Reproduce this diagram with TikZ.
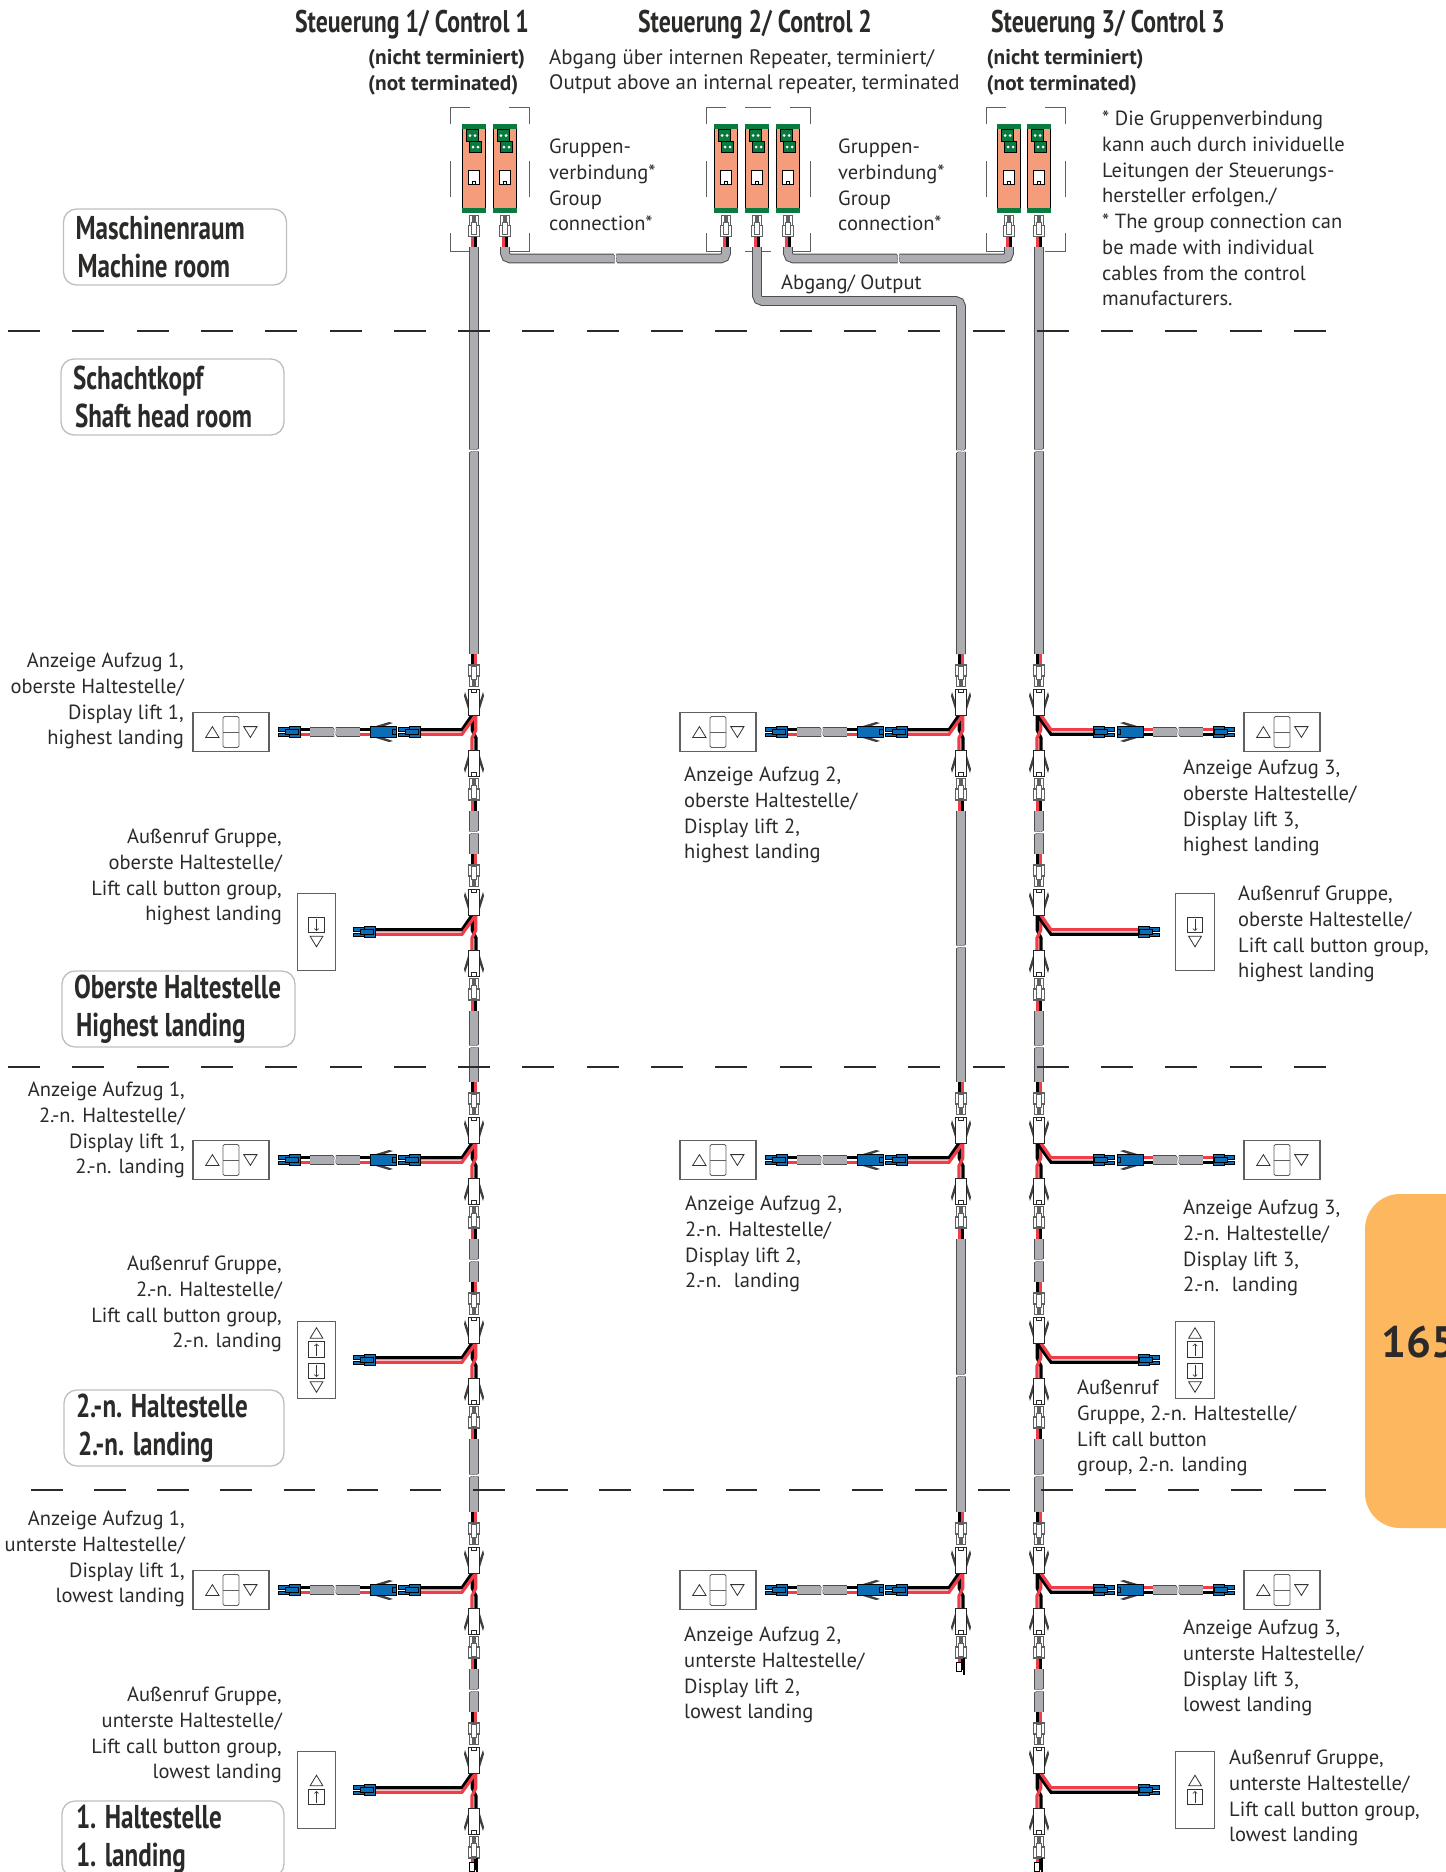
\documentclass[tikz,border=0pt]{standalone}
\usepackage{fontspec}
\setmainfont{PT Sans}
\newfontfamily\headfont{PT Sans}[FakeStretch=0.76]
\usetikzlibrary{positioning}

\definecolor{inktext}{HTML}{2B2A29}
\definecolor{cablegrey}{HTML}{ABADB0}
\definecolor{cableedge}{HTML}{4D4D4F}
\definecolor{plugedge}{HTML}{5F6062}
\definecolor{wirered}{HTML}{EF3E4A}
\definecolor{plugblue}{HTML}{0B6DB5}
\definecolor{moduleorange}{HTML}{F59C7B}
\definecolor{modulegreen}{HTML}{0A7A3E}
\definecolor{tabyellow}{HTML}{FDB85F}
\definecolor{roomedge}{HTML}{BCBEC0}

\tikzstyle{cable}=[draw=cableedge,line width=1pt,double=cablegrey,double distance=7.6pt,rounded corners=5pt]
\tikzstyle{wireblack}=[draw=black,line width=3.2pt]
\tikzstyle{wirered}=[draw=wirered,line width=3.2pt]
\tikzstyle{plugwhite}=[draw=plugedge,fill=white,line width=1.1pt]
\tikzstyle{bigwhite}=[draw=black!85,fill=white,line width=0.9pt]
\tikzstyle{plugblue}=[draw=black,fill=plugblue,line width=0.9pt]
\tikzstyle{barb}=[fill=black!75]
\tikzstyle{landline}=[draw=inktext,line width=1.7pt]
\tikzstyle{bracket}=[draw=plugedge,line width=1pt]
\tikzstyle{panel}=[draw=plugedge,fill=white,line width=1.1pt,inner sep=0pt]
\tikzstyle{symbol}=[draw=black!80,line width=0.8pt]
\tikzstyle{roombox}=[draw=roomedge,line width=1.3pt,rounded corners=13pt,align=flush left,inner sep=0pt,
  font=\headfont\bfseries\fontsize{33}{38}\selectfont,text=inktext]
\tikzstyle{title}=[font=\headfont\bfseries\fontsize{31.3}{36}\selectfont,text=inktext,inner sep=0pt]
\tikzstyle{labelbase}=[font=\fontsize{20.5}{25.7}\selectfont,text=inktext,inner sep=0pt,yshift=-4pt,execute at begin node=\strut]
\tikzstyle{labelleft}=[labelbase,anchor=north west,align=left]
\tikzstyle{labelright}=[labelbase,anchor=north east,align=right]
\tikzstyle{labelbold}=[labelleft,font=\bfseries\fontsize{21.3}{25.7}\selectfont]

\tikzset{cablebreak/.pic={
  \draw[white,line width=2.4pt] (-6,1) .. controls (-2,-2.5) and (2,2.5) .. (6,-1);
  \draw[cableedge,line width=0.4pt] (-4.4,-0.6) .. controls (-2,-3) and (2,1.6) .. (4.4,-2.2);
  \draw[cableedge,line width=0.4pt] (-4.4,2.2) .. controls (-2,-1.6) and (2,3) .. (4.4,0.6);
}}

\newcommand{\smallplug}[5]{
  \begin{scope}[shift={(#2,#3)},rotate=#4]
    \coordinate (#1) at (0,0);
    \filldraw[#5] (-4.3,9) rectangle (-1,21.5);
    \filldraw[#5] (1,9) rectangle (4.3,21.5);
    \filldraw[#5] (-5.4,0) rectangle (5.4,11);
    \filldraw[#5] (-2.5,1.8) rectangle (2.5,14.5);
  \end{scope}
}
\newcommand{\bigplug}[5]{
  \begin{scope}[shift={(#2,#3)},rotate=#4]
    \coordinate (#1) at (0,0);
    \fill[barb] (-4.8,2) -- (-10,19) -- (-9,23) -- (-5.2,12) -- cycle;
    \fill[barb] (4.8,2) -- (10,19) -- (9,23) -- (5.2,12) -- cycle;
    \filldraw[#5] (-5.3,0) rectangle (5.3,26);
    \draw[#5,fill=none] (-2.2,26) -- (-2.2,22.5) -- (2.2,22.5) -- (2.2,26);
  \end{scope}
}
\newcommand{\cablerun}[2]{
  \draw[cable] (#1) -- (#2);
  \path (#1) -- pic {cablebreak} (#2);
}
\newcommand{\module}[2]{
  \begin{scope}[shift={(#2,0)}]
    \filldraw[fill=moduleorange,draw=black,line width=1.5pt] (-11.7,124.5) rectangle (11.7,212.5);
    \fill[modulegreen] (-12,124) rectangle (12,128.5);
    \fill[modulegreen] (-12,208) rectangle (12,213);
    \filldraw[fill=modulegreen,draw=black,line width=0.8pt] (-7.5,129.5) rectangle (4.5,141.5);
    \filldraw[fill=modulegreen,draw=black,line width=0.8pt] (-4.5,141) rectangle (7.5,152.5);
    \foreach \dotx/\doty in {-4/135.5,1/135.5,-1/147,4/147}
      \fill[white] (\dotx,\doty) circle (1.5);
    \filldraw[fill=white,draw=black,line width=1pt] (-5.7,170.7) rectangle (5.7,184.7);
    \draw[black,line width=0.7pt] (-1.6,184.7) -- (-1.6,181.5) -- (1.6,181.5) -- (1.6,184.7);
    \smallplug{#1-plug}{0}{236.7}{180}{plugwhite}
    \draw[wirered] (-1.8,236.7) -- (-1.8,248);
    \draw[wireblack] (1.8,236.7) -- (1.8,248);
    \coordinate (#1-out) at (0,247);
  \end{scope}
}
\newcommand{\junction}[5]{
  \begin{scope}[shift={(#2,#3)}]
    \coordinate (#1-top) at (0,-78);
    \coordinate (#1-bot) at (0,79);
    \draw[wireblack] (-1.8,-79) -- (-1.8,-66);
    \draw[wirered] (1.8,-79) -- (1.8,-66);
    \draw[wirered] (-1.8,67) -- (-1.8,80);
    \draw[wireblack] (1.8,67) -- (1.8,80);
    \draw[wireblack] (-1.8,-17) -- (-1.8,-2) -- (2,6) -- (2,18);
    \draw[wirered] (1.8,-17) -- (1.8,-2) -- (-2,6) -- (-2,18);
    \draw[wireblack] (-1.8,-17) -- ({#4*12},{#4*2.2}) -- ({#4*#5},{#4*2.2});
    \draw[wirered] (1.8,-17) -- ({#4*12},{-#4*2.2}) -- ({#4*#5},{-#4*2.2});
    \smallplug{#1-up}{0}{-67}{0}{plugwhite}
    \bigplug{#1-upb}{0}{-17}{180}{bigwhite}
    \bigplug{#1-dnb}{0}{18}{0}{bigwhite}
    \smallplug{#1-dn}{0}{68}{180}{plugwhite}
    \smallplug{#1-tap}{{#4*#5}}{0}{{90*#4}}{plugblue}
  \end{scope}
}
\newcommand{\displayrun}[4]{
  \begin{scope}[shift={(#2,#3)}]
    \coordinate (#1-near) at ({#4*114},0);
    \coordinate (#1-far) at ({#4*164},0);
    \draw[wireblack] ({#4*104},{#4*2.2}) -- ({#4*115},{#4*2.2});
    \draw[wirered] ({#4*104},{-#4*2.2}) -- ({#4*115},{-#4*2.2});
    \draw[wireblack] ({#4*163},{#4*2.2}) -- ({#4*174},{#4*2.2});
    \draw[wirered] ({#4*163},{-#4*2.2}) -- ({#4*174},{-#4*2.2});
    \draw[cable,double distance=8pt] (#1-near) -- (#1-far);
    \pic[rotate=90] at ({#4*139},0) {cablebreak};
    \bigplug{#1-big}{{#4*104}}{0}{{-90*#4}}{plugblue}
    \smallplug{#1-end}{{#4*174}}{0}{{90*#4}}{plugblue}
    \node[panel,minimum width=76pt,minimum height=38.5pt] (#1-box) at ({#4*243},0) {};
    \begin{scope}[shift={({#4*243},0)}]
      \draw[symbol] (-25.3,5.4) -- (-18.6,-5.4) -- (-12,5.4) -- cycle;
      \draw[symbol] (12.7,-5.4) -- (19.4,5.4) -- (26,-5.4) -- cycle;
      \draw[symbol,draw=plugedge,rounded corners=1.5pt] (-8,-15.5) rectangle (8,15.5);
      \draw[symbol,draw=plugedge] (-8,0) -- (8,0);
    \end{scope}
  \end{scope}
}
\newcommand{\triup}[1]{\draw[symbol] (-6.4,#1+5.3) -- (0,#1-5.3) -- (6.4,#1+5.3) -- cycle;}
\newcommand{\tridown}[1]{\draw[symbol] (-6.4,#1-5.3) -- (0,#1+5.3) -- (6.4,#1-5.3) -- cycle;}
\newcommand{\keyup}[1]{\draw[symbol] (-7.8,#1-7.8) rectangle (7.8,#1+7.8); \draw[symbol,->] (0,#1+6) -- (0,#1-6);}
\newcommand{\keydown}[1]{\draw[symbol] (-7.8,#1-7.8) rectangle (7.8,#1+7.8); \draw[symbol,->] (0,#1-6) -- (0,#1+6);}
\newcommand{\callbox}[4]{
  \node[panel,minimum width=38.5pt,minimum height=76.5pt] (#1) at (#2,#3) {};
  \begin{scope}[shift={(#2,#3)}]
    #4
  \end{scope}
}
\newcommand{\tailstub}[2]{
  \draw[black,line width=1.6pt] (#1+3,#2+68) -- (#1+3,#2+85);
  \filldraw[fill=white,draw=black,line width=1pt] (#1-4.5,#2+72) rectangle (#1,#2+81);
}
\newcommand{\cornerset}[2]{
  \draw[bracket] (#1,124) -- (#1,107) -- ++(#2*20,0);
  \draw[bracket] (#1,161) -- (#1,197);
  \draw[bracket] (#1,233) -- (#1,251) -- ++(#2*20,0);
}

\begin{document}
\begin{tikzpicture}[x=1pt,y=-1pt,>=to]
  \useasboundingbox (0,0) rectangle (1446,1872);

  \path[fill=tabyellow,rounded corners=35pt] (1365,1194) rectangle (1540,1528);
  \node[font=\bfseries\fontsize{44}{44}\selectfont,text=inktext,anchor=base west,inner sep=0pt] (pagenumber) at (1381,1357) {165};

  \cornerset{450}{1}
  \cornerset{529}{-1}
  \cornerset{706}{1}
  \cornerset{810}{-1}
  \cornerset{986}{1}
  \cornerset{1065}{-1}
  \draw[bracket] (745,107) -- (771,107);
  \draw[bracket] (745,251) -- (771,251);
  \module{cA}{474}
  \module{cB}{505}
  \module{cC}{726}
  \module{cD}{757}
  \module{cE}{788}
  \module{cF}{1009}
  \module{cG}{1039}

  \coordinate (groupA) at (615.5,258.5);
  \coordinate (groupB) at (898.5,258.5);
  \coordinate (outputbend) at (961,301);
  \draw[cable] (cB-out) |- (groupA) -| (cC-out);
  \draw[cable] (cE-out) |- (groupB) -| (cF-out);
  \pic[rotate=90] at (groupA) {cablebreak};
  \pic[rotate=90] at (groupB) {cablebreak};

  \foreach \lift/\liftx/\side/\boxx in {1/474/-1/316.5,3/1039/1/1195}
  {
    \foreach \halt/\halty/\reach in {a/732/54,b/932/99,c/1160/54,d/1360/99,e/1590/54,f/1790/99}
    {
      \junction{L\lift\halt}{\liftx}{\halty}{\side}{\reach}
    }
    \foreach \halt/\halty in {a/732,c/1160,e/1590}
    {
      \displayrun{D\lift\halt}{\liftx}{\halty}{\side}
    }
    \foreach \upper/\lower in {a/b,b/c,c/d,d/e,e/f}
    {
      \cablerun{L\lift\upper-bot}{L\lift\lower-top}
    }
    \tailstub{\liftx}{1790}
    \callbox{B\lift b}{\boxx}{932}{\keydown{-7}\tridown{9.5}}
    \callbox{B\lift d}{\boxx}{1360}{\triup{-27}\keyup{-10.5}\keydown{11}\tridown{27}}
    \callbox{B\lift f}{\boxx}{1790}{\triup{-9.5}\keyup{7}}
  }
  \cablerun{cA-out}{L1a-top}
  \cablerun{cG-out}{L3a-top}

  \foreach \halt/\halty in {a/732,c/1160,e/1590}
  {
    \junction{L2\halt}{961}{\halty}{-1}{54}
    \displayrun{D2\halt}{961}{\halty}{-1}
  }
  \draw[cable] (cD-out) |- (outputbend) -- (L2a-top);
  \pic at (961,451) {cablebreak};
  \cablerun{L2a-bot}{L2c-top}
  \cablerun{L2c-bot}{L2e-top}
  \tailstub{961}{1590}

  \draw[landline,dash pattern=on 32pt off 32.3pt] (8,331) -- (1328,331);
  \draw[landline,dash pattern=on 32pt off 32.3pt] (8,1067) -- (1328,1067);
  \draw[landline,dash pattern=on 31.5pt off 31.65pt] (31,1490) -- (1327,1490);

  \node[title] (titleA) at (412,25) {Steuerung 1/ Control 1};
  \node[title] (titleB) at (755,25) {Steuerung 2/ Control 2};
  \node[title] (titleC) at (1108,25) {Steuerung 3/ Control 3};
  \node[labelbold] (stateA) at (368,45) {(nicht terminiert)\\(not terminated)};
  \node[labelleft,font=\fontsize{20.9}{25.7}\selectfont] (stateB) at (549,45) {Abgang über internen Repeater, terminiert/\\Output above an internal repeater, terminated};
  \node[labelbold] (stateC) at (986.5,45) {(nicht terminiert)\\(not terminated)};
  \node[labelleft] (groupnoteA) at (549,135) {Gruppen-\\verbindung*\\Group\\connection*};
  \node[labelleft] (groupnoteB) at (838,135) {Gruppen-\\verbindung*\\Group\\connection*};
  \node[labelleft] (output) at (781,267) {Abgang/ Output};
  \node[labelleft] (footnote) at (1102,107) {* Die Gruppenverbindung\\kann auch durch inividuelle\\Leitungen der Steuerungs-\\hersteller erfolgen./\\* The group connection can\\be made with individual\\cables from the control\\manufacturers.};

  \node[roombox,minimum width=223pt,minimum height=76pt,text width=199pt] (machineroom) at (175,247) {Maschinenraum\\\hspace*{2pt}Machine room};
  \node[roombox,minimum width=223pt,minimum height=76pt,text width=199pt] (headroom) at (172.5,397) {Schachtkopf\\\hspace*{2pt}Shaft head room};
  \node[roombox,minimum width=233pt,minimum height=76pt,text width=209pt] (highest) at (178.5,1009) {\mbox{Oberste Haltestelle}\\\hspace*{2pt}Highest landing};
  \node[roombox,minimum width=220pt,minimum height=76pt,text width=196pt] (middle) at (174,1428) {\mbox{2.-n. Haltestelle}\\\hspace*{2pt}2.-n. landing};
  \node[roombox,minimum width=222pt,minimum height=76pt,text width=194pt] (lowest) at (173,1839) {\mbox{1. Haltestelle}\\1. landing};

  \node[labelright] (textA) at (184,649) {Anzeige Aufzug 1,\\oberste Haltestelle/\\Display lift 1,\\highest landing};
  \node[labelright] (textB) at (282,825) {Außenruf Gruppe,\\oberste Haltestelle/\\Lift call button group,\\highest landing};
  \node[labelright] (textC) at (185,1078) {Anzeige Aufzug 1,\\2.-n. Haltestelle/\\Display lift 1,\\2.-n. landing};
  \node[labelright] (textD) at (282,1252) {Außenruf Gruppe,\\2.-n. Haltestelle/\\Lift call button group,\\2.-n. landing};
  \node[labelright] (textE) at (185,1507) {Anzeige Aufzug 1,\\unterste Haltestelle/\\Display lift 1,\\lowest landing};
  \node[labelright] (textF) at (282,1683) {Außenruf Gruppe,\\unterste Haltestelle/\\Lift call button group,\\lowest landing};
  \node[labelleft] (textG) at (684,763) {Anzeige Aufzug 2,\\oberste Haltestelle/\\Display lift 2,\\highest landing};
  \node[labelleft] (textH) at (685,1192) {Anzeige Aufzug 2,\\2.-n. Haltestelle/\\Display lift 2,\\2.-n.~ landing};
  \node[labelleft] (textI) at (684,1623) {Anzeige Aufzug 2,\\unterste Haltestelle/\\Display lift 2,\\lowest landing};
  \node[labelleft] (textJ) at (1183,756) {Anzeige Aufzug 3,\\oberste Haltestelle/\\Display lift 3,\\highest landing};
  \node[labelleft] (textK) at (1183,1196) {Anzeige Aufzug 3,\\2.-n. Haltestelle/\\Display lift 3,\\2.-n.~ landing};
  \node[labelleft] (textL) at (1183,1616) {Anzeige Aufzug 3,\\unterste Haltestelle/\\Display lift 3,\\lowest landing};
  \node[labelleft] (textM) at (1238,882) {Außenruf Gruppe,\\oberste Haltestelle/\\Lift call button group,\\highest landing};
  \node[labelleft] (textN) at (1077,1376) {Außenruf\\Gruppe, 2.-n. Haltestelle/\\Lift call button\\group, 2.-n. landing};
  \node[labelleft] (textO) at (1229,1746) {Außenruf Gruppe,\\unterste Haltestelle/\\Lift call button group,\\lowest landing};
\end{tikzpicture}
\end{document}
